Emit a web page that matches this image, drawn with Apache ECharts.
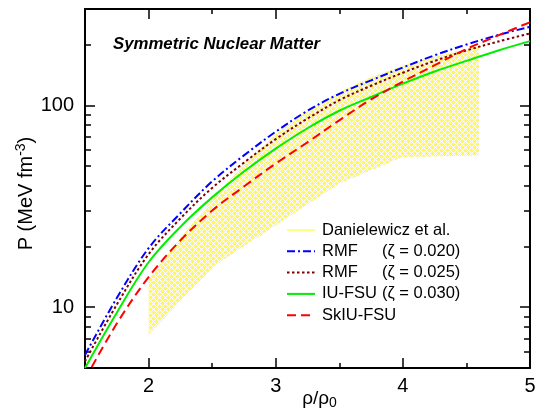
<!DOCTYPE html>
<html>
<head>
<meta charset="utf-8">
<script src="https://cdn.jsdelivr.net/npm/echarts@6/dist/echarts.min.js"></script>
<style>
html,body{margin:0;padding:0;background:#fff;}
#c{width:536px;height:411px;}
</style>
</head>
<body>
<div id="c"></div>
<script>
// ---- data ----
const rho = [1.5, 1.75, 2, 2.25, 2.5, 2.75, 3, 3.25, 3.5, 3.75, 4, 4.25, 4.5, 4.75, 5];
const rmf020 = [5.8, 11.1, 19.6, 29.2, 42, 56.5, 74, 94, 114, 133, 154, 177, 200, 223, 245];
const rmf025 = [5.4, 10.3, 18.3, 27.5, 39, 52, 68, 86, 106, 125, 145, 166, 187, 207, 227];
const iufsu  = [5.0, 9.4, 16.7, 25, 35, 47, 61, 77, 94, 110, 128, 147, 166, 187, 208];
const skiufsu = [4.4, 8.3, 14.1, 21.4, 30.1, 39.6, 51.5, 65.6, 84.3, 107, 131, 158, 190, 222, 258];

const bandUpperX = [2, 2.25, 2.5, 2.75, 3, 3.25, 3.5, 3.75, 4, 4.25, 4.6];
const bandUpperP = [13.8, 22, 34, 52, 72, 94, 116, 138, 157, 175, 196];
const bandLowerX = [2, 2.52, 3.5, 4.0, 4.6];
const bandLowerP = [7.3, 16.1, 41, 55.5, 56.5];

const xMajor = [2, 3, 4, 5];
const xMinor = [2.5, 3.5, 4.5];
const yMajor = [10, 100];
const yMinor = [6, 7, 8, 9, 20, 30, 40, 50, 60, 70, 80, 90, 200];

const names = ['Danielewicz et al.', 'RMF', 'RMF', 'IU-FSU', 'SkIU-FSU'];
const zetas = ['', '(\u03b6 = 0.020)', '(\u03b6 = 0.025)', '(\u03b6 = 0.030)', ''];

// ---- build ----
const FONT = 'Liberation Sans, Arial, sans-serif';
const pair = (xs, ys) => xs.map((x, i) => [x, ys[i]]);
const bandPoly = pair(bandUpperX, bandUpperP).concat(pair(bandLowerX, bandLowerP).reverse());

// crisp cross-hatch pattern (yellow with white diagonals)
const tile = document.createElement('canvas');
tile.width = 6; tile.height = 6;
(function () {
  const g = tile.getContext('2d');
  const img = g.createImageData(6, 6);
  for (let y = 0; y < 6; y++) {
    for (let x = 0; x < 6; x++) {
      const k = (y * 6 + x) * 4;
      const white = ((x + y) % 6 === 0) || (((x - y) % 6 + 6) % 6 === 0);
      img.data[k] = 255;
      img.data[k + 1] = white ? 255 : 246;
      img.data[k + 2] = white ? 255 : 108;
      img.data[k + 3] = 255;
    }
  }
  g.putImageData(img, 0, 0);
})();

function xAx(pos, ticks, len, showLine, showLabel, extra) {
  return Object.assign({
    type: 'value', position: pos, min: 1.5, max: 5,
    axisLine: { show: showLine, onZero: false, lineStyle: { color: '#000', width: 2 } },
    axisTick: { show: true, inside: true, length: len, customValues: ticks, lineStyle: { color: '#000', width: 1.5 } },
    axisLabel: { show: showLabel, customValues: ticks, fontSize: 20, color: '#000', fontFamily: FONT, margin: 8 },
    splitLine: { show: false }
  }, extra || {});
}
function yAx(pos, ticks, len, showLine, showLabel, extra) {
  return Object.assign({
    type: 'log', logBase: 10, position: pos, min: 5, max: 300,
    axisLine: { show: showLine, onZero: false, lineStyle: { color: '#000', width: 2 } },
    axisTick: { show: true, inside: true, length: len, customValues: ticks, lineStyle: { color: '#000', width: 1.5 } },
    axisLabel: { show: showLabel, customValues: ticks, fontSize: 20, color: '#000', fontFamily: FONT, margin: 11 },
    splitLine: { show: false }, minorTick: { show: false }
  }, extra || {});
}

const styles = [
  { stroke: '#ffff88', lineDash: null },
  { stroke: '#0000ff', lineDash: [8, 3, 2, 3] },
  { stroke: '#800000', lineDash: [2.5, 2.5] },
  { stroke: '#00ee00', lineDash: null },
  { stroke: '#ff0000', lineDash: [9, 5] }
];

// manual legend
const LEG_X = 287, LEG_Y = 230, LEG_PITCH = 21.3, LEG_FONT = '16.5px ' + FONT;
const legendEls = [];
names.forEach((n, i) => {
  const y = LEG_Y + i * LEG_PITCH;
  legendEls.push({ type: 'line', shape: { x1: LEG_X, y1: y, x2: LEG_X + 28, y2: y },
    style: { stroke: styles[i].stroke, lineWidth: 2, lineDash: styles[i].lineDash } });
  legendEls.push({ type: 'text', x: LEG_X + 35, y: y, style: { text: n, fill: '#000', font: LEG_FONT, textVerticalAlign: 'middle', verticalAlign: 'middle' } });
  if (zetas[i]) {
    legendEls.push({ type: 'text', x: LEG_X + 95, y: y, style: { text: zetas[i], fill: '#000', font: LEG_FONT, textVerticalAlign: 'middle', verticalAlign: 'middle' } });
  }
});

const chart = echarts.init(document.getElementById('c'), null, { renderer: 'canvas' });

const lineSeries = (name, data, st) => ({
  type: 'line', name: name, data: pair(rho, data), xAxisIndex: 0, yAxisIndex: 0,
  symbol: 'none', smooth: 0.35, clip: true, z: 3,
  lineStyle: { color: st.stroke, width: 2, type: st.lineDash || 'solid' }
});

chart.setOption({
  animation: false,
  title: {
    text: 'Symmetric Nuclear Matter', left: 113, top: 36, padding: 0,
    textStyle: { fontSize: 16.8, fontWeight: 'bold', fontStyle: 'italic', color: '#000', fontFamily: FONT }
  },
  grid: { left: 85, right: 6, top: 9, bottom: 43, containLabel: false, outerBoundsMode: 'none' },
  graphic: legendEls,
  xAxis: [
    xAx('bottom', xMajor, 10, true, true, {
      name: '\u03c1/\u03c1{s|0}', nameLocation: 'middle', nameGap: 19, nameMoveOverlap: false,
      nameTextStyle: { fontSize: 19, color: '#000', fontFamily: FONT, padding: [0, 0, 0, 24],
        rich: { s: { fontSize: 14, fontFamily: FONT, padding: [9, 0, 0, 0] } } }
    }),
    xAx('bottom', xMinor, 5, false, false),
    xAx('top', xMajor, 10, true, false),
    xAx('top', xMinor, 5, false, false)
  ],
  yAxis: [
    yAx('left', yMajor, 10, true, true, {
      name: 'P (MeV fm{s|-3})', nameLocation: 'middle', nameGap: 46, nameMoveOverlap: false,
      nameTextStyle: { fontSize: 20, color: '#000', fontFamily: FONT, padding: [0, 10, 0, 0],
        rich: { s: { fontSize: 14, fontFamily: FONT, padding: [0, 0, 11, 0] } } }
    }),
    yAx('left', yMinor, 6, false, false),
    yAx('right', yMajor, 10, true, false),
    yAx('right', yMinor, 6, false, false)
  ],
  series: [
    {
      type: 'custom', name: 'Danielewicz et al.', xAxisIndex: 0, yAxisIndex: 0, z: 1, silent: true,
      data: bandPoly,
      renderItem: function (params, api) {
        if (params.dataIndex !== 0) return null;
        const pts = bandPoly.map(p => api.coord(p));
        return { type: 'polygon', shape: { points: pts }, style: { fill: { image: tile, repeat: 'repeat' }, stroke: null } };
      }
    },
    lineSeries('RMF (\u03b6 = 0.020)', rmf020, styles[1]),
    lineSeries('RMF (\u03b6 = 0.025)', rmf025, styles[2]),
    lineSeries('IU-FSU (\u03b6 = 0.030)', iufsu, styles[3]),
    lineSeries('SkIU-FSU', skiufsu, styles[4])
  ]
});
</script>
</body>
</html>
